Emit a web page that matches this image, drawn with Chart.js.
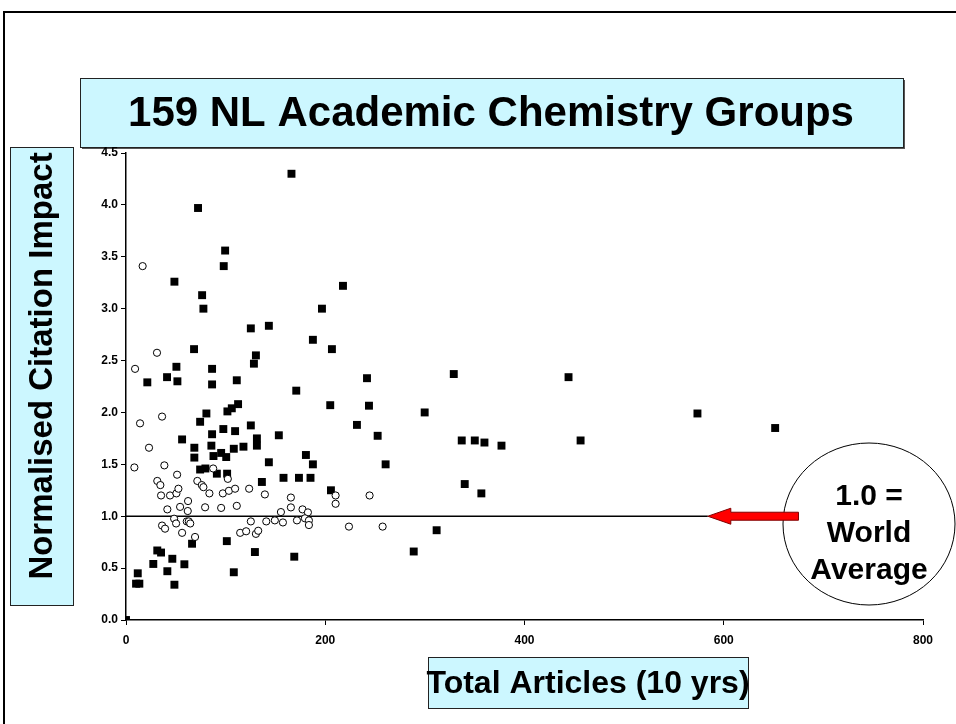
<!DOCTYPE html>
<html>
<head>
<meta charset="utf-8">
<script src="https://cdn.jsdelivr.net/npm/chart.js@4.4.1/dist/chart.umd.min.js"></script>
<style>
  body { margin: 0; background: #fff; }
  canvas { display: block; }
</style>
</head>
<body>
<canvas id="scatterChart" width="956" height="724"></canvas>
<script>
// filled squares (articles, impact)
const squareArticles = [0, 72.3, 99.5, 98.1, 48.6, 76.4, 77.7, 68.3, 50.6, 86.4, 21.4, 41.2, 51.6, 86.4, 56.3, 74.4,
    80.7, 101.8, 86.4, 97.7, 68.6, 68.6, 85.7, 87.8, 95.5, 100.6, 74.4, 79.7, 91.2, 101.5, 66.3, 101.2, 31.4, 35.2,
    27.4, 46.5, 58.6, 41.5, 11.8, 10.1, 13.4, 48.6, 166.1, 217.8, 196.7, 125.3, 143.4, 187.6, 206.7, 130.4, 128.4,
    111.2, 170.9, 205.0, 231.8, 112.5, 106.2, 109.5, 125.3, 131.4, 131.4, 153.4, 117.9, 108.2, 143.4, 180.6, 187.6,
    136.4, 158.1, 173.6, 185.2, 205.7, 129.4, 168.9, 108.2, 241.9, 329.0, 243.9, 252.6, 260.6, 299.8, 337.0, 350.1,
    340.0, 356.7, 311.8, 288.8, 444.2, 573.6, 651.6, 359.8, 376.9, 456.3];
const squareImpact = [0, 3.97, 3.56, 3.41, 3.26, 3.13, 3.00, 2.61, 2.44, 2.42, 2.29, 2.34, 2.30, 2.27, 1.74, 1.91,
    1.99, 2.01, 1.79, 1.84, 1.66, 1.565, 1.68, 1.58, 1.61, 1.57, 1.45, 1.46, 1.41, 1.41, 0.735, 0.76, 0.67, 0.65,
    0.54, 0.59, 0.537, 0.47, 0.45, 0.35, 0.35, 0.34, 4.30, 3.22, 3.00, 2.81, 2.835, 2.70, 2.61, 2.55, 2.47,
    2.31, 2.21, 2.07, 1.88, 2.08, 2.04, 1.82, 1.875, 1.75, 1.68, 1.78, 1.67, 1.65, 1.52, 1.59, 1.50,
    1.33, 1.37, 1.37, 1.37, 1.25, 0.655, 0.61, 0.46, 2.33, 2.37, 2.065, 1.775, 1.50, 2.00, 1.73, 1.73,
    1.31, 1.22, 0.865, 0.66, 2.34, 1.99, 1.85, 1.71, 1.68, 1.73];

// open circles (articles, impact)
const circleArticles = [16.7, 31.1, 9.1, 14.1, 36.2, 23.1, 8.4, 87.5, 31.4, 34.5, 38.5, 51.3, 35.2, 44.2, 50.6, 52.6,
    71.6, 76.1, 77.7, 83.7, 97.2, 103.3, 102.2, 62.3, 41.5, 54.3, 62.0, 79.4, 95.5, 48.3, 50.3, 61.0, 63.0, 64.5,
    36.2, 39.2, 56.3, 69.3, 109.5, 123.6, 139.4, 111.2, 165.5, 165.5, 210.4, 210.4, 155.5, 177.2, 182.6, 125.3,
    140.8, 149.4, 157.5, 171.6, 179.6, 183.6, 183.6, 223.8, 114.6, 120.6, 130.4, 132.7, 244.5, 257.6];
const circleImpact = [3.41, 2.575, 2.42, 1.895, 1.96, 1.66, 1.47, 1.46, 1.34, 1.30, 1.49, 1.40, 1.20, 1.20, 1.22, 1.265,
    1.34, 1.30, 1.28, 1.22, 1.22, 1.245, 1.36, 1.146, 1.066, 1.09, 1.05, 1.086, 1.08, 0.976, 0.93, 0.95, 0.95, 0.93,
    0.91, 0.88, 0.84, 0.80, 1.265, 1.265, 1.21, 1.10, 1.18, 1.085, 1.20, 1.12, 1.04, 1.066, 1.037, 0.95,
    0.95, 0.96, 0.94, 0.96, 0.98, 0.96, 0.915, 0.90, 0.84, 0.855, 0.83, 0.86, 1.20, 0.90];

// world average reference line and arrow
const worldLineX = [0, 584];
const worldLineY = [1, 1];
const arrowFromX = 675;
const arrowToX = 584;
const arrowY = 1;

const xTicks = [0, 200, 400, 600, 800];
const yTicks = [0, 0.5, 1, 1.5, 2, 2.5, 3, 3.5, 4, 4.5];

const chartTitle = '159 NL Academic Chemistry Groups';
const yTitle = 'Normalised Citation Impact';
const xTitle = 'Total Articles (10 yrs)';
const calloutLines = ['1.0 =', 'World', 'Average'];

const FONT = "Arial, 'Liberation Sans', sans-serif";

function toPoints(xs, ys) {
    return xs.map((x, i) => ({ x: x, y: ys[i] }));
}

function drawBox(ctx, x, y, w, h, shadow) {
    if (shadow) {
        ctx.fillStyle = '#555';
        ctx.fillRect(x + 2, y + 2, w, h);
    }
    ctx.fillStyle = '#ccf7ff';
    ctx.fillRect(x, y, w, h);
    ctx.strokeStyle = '#222';
    ctx.lineWidth = 1;
    ctx.strokeRect(x + 0.5, y + 0.5, w, h);
}

const decorPlugin = {
    id: 'decor',
    beforeDraw(chart) {
        const ctx = chart.ctx;
        ctx.save();
        // page frame
        ctx.strokeStyle = '#000';
        ctx.lineWidth = 2;
        ctx.beginPath();
        ctx.moveTo(4, 724);
        ctx.lineTo(4, 12);
        ctx.lineTo(956, 12);
        ctx.stroke();

        // title box
        drawBox(ctx, 80, 78, 823, 69, true);
        ctx.fillStyle = '#000';
        ctx.font = 'bold 42px ' + FONT;
        ctx.textAlign = 'center';
        ctx.textBaseline = 'middle';
        ctx.fillText(chartTitle, 491, 114);

        // y title box
        drawBox(ctx, 10, 147, 63, 458, false);
        ctx.save();
        ctx.translate(43, 366);
        ctx.rotate(-Math.PI / 2);
        ctx.fillStyle = '#000';
        ctx.font = 'bold 33px ' + FONT;
        ctx.fillText(yTitle, 0, 0);
        ctx.restore();

        // x title box
        drawBox(ctx, 428, 657, 320, 51, false);
        ctx.fillStyle = '#000';
        ctx.font = 'bold 32px ' + FONT;
        ctx.fillText(xTitle, 588, 684);
        ctx.restore();
    },
    afterDraw(chart) {
        const ctx = chart.ctx;
        const xs = chart.scales.x;
        const ys = chart.scales.y;
        ctx.save();

        // callout ellipse
        ctx.beginPath();
        ctx.ellipse(869, 524, 86, 81, 0, 0, Math.PI * 2);
        ctx.fillStyle = '#fff';
        ctx.fill();
        ctx.strokeStyle = '#000';
        ctx.lineWidth = 1;
        ctx.stroke();
        ctx.fillStyle = '#000';
        ctx.font = 'bold 30px ' + FONT;
        ctx.textAlign = 'center';
        ctx.textBaseline = 'middle';
        calloutLines.forEach((line, i) => {
            ctx.fillText(line, 869, 497 + i * 37);
        });

        // red arrow pointing at the 1.0 line
        const tail = xs.getPixelForValue(arrowFromX);
        const tip = xs.getPixelForValue(arrowToX);
        const yy = ys.getPixelForValue(arrowY);
        ctx.fillStyle = '#ff0000';
        ctx.strokeStyle = '#800000';
        ctx.lineWidth = 1;
        ctx.beginPath();
        ctx.moveTo(tip, yy);
        ctx.lineTo(tip + 23, yy - 8);
        ctx.lineTo(tip + 23, yy - 4);
        ctx.lineTo(tail, yy - 4);
        ctx.lineTo(tail, yy + 4);
        ctx.lineTo(tip + 23, yy + 4);
        ctx.lineTo(tip + 23, yy + 8);
        ctx.closePath();
        ctx.fill();
        ctx.stroke();
        ctx.restore();
    }
};

const tickFont = { family: FONT, size: 12, weight: 'bold' };

const ctx = document.getElementById('scatterChart').getContext('2d');
const myChart = new Chart(ctx, {
    type: 'scatter',
    data: {
        datasets: [
            {
                label: 'circles',
                data: toPoints(circleArticles, circleImpact),
                pointStyle: 'circle',
                pointRadius: 3.6,
                pointBorderWidth: 1,
                pointBackgroundColor: '#fff',
                pointBorderColor: '#000'
            },
            {
                label: 'squares',
                data: toPoints(squareArticles, squareImpact),
                pointStyle: 'rect',
                pointRadius: 5.6,
                pointBorderWidth: 0,
                pointBackgroundColor: '#000',
                pointBorderColor: '#000'
            },
            {
                label: 'world average',
                type: 'line',
                data: toPoints(worldLineX, worldLineY),
                borderColor: '#000',
                borderWidth: 1.5,
                pointRadius: 0,
                fill: false
            }
        ]
    },
    options: {
        responsive: false,
        animation: false,
        layout: { padding: { left: 86, right: 33, top: 153, bottom: 80 } },
        plugins: {
            legend: { display: false },
            tooltip: { enabled: false }
        },
        scales: {
            x: {
                type: 'linear',
                min: 0,
                max: 800,
                afterFit: scale => { scale.height = 24; },
                afterBuildTicks: scale => { scale.ticks = xTicks.map(v => ({ value: v })); },
                ticks: { color: '#000', font: tickFont, padding: 8 },
                grid: { drawOnChartArea: false, drawTicks: true, tickLength: 5, color: '#000' },
                border: { color: '#000', width: 1.5 }
            },
            y: {
                type: 'linear',
                min: 0,
                max: 4.5,
                afterFit: scale => { scale.width = 40; },
                afterBuildTicks: scale => { scale.ticks = yTicks.map(v => ({ value: v })); },
                ticks: { color: '#000', font: tickFont, padding: 3, callback: v => v.toFixed(1) },
                grid: { drawOnChartArea: false, drawTicks: true, tickLength: 5, color: '#000' },
                border: { color: '#000', width: 1.5 }
            }
        }
    },
    plugins: [decorPlugin]
});
</script>
</body>
</html>
